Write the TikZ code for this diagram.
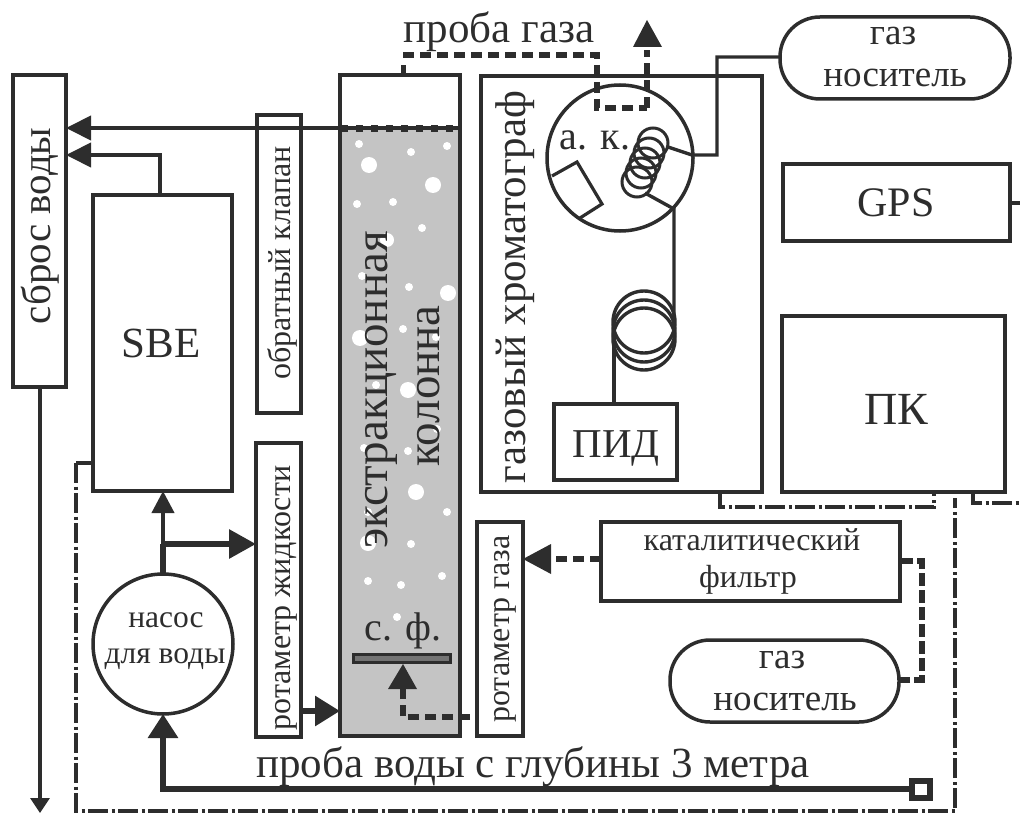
\documentclass[tikz,border=0pt]{standalone}
\usepackage{fontspec}
\setmainfont{Liberation Serif}
\usetikzlibrary{arrows.meta,fit}
\definecolor{ink}{HTML}{2D2D2D}
\definecolor{colfill}{HTML}{C4C4C4}
\tikzset{
  x=1pt,y=-1pt,
  box/.style={draw=ink,line width=3.5pt,inner sep=0pt,outer sep=0pt},
  txt/.style={text=ink,inner sep=0pt,anchor=base,font=\fontsize{#1}{#1}\selectfont},
  pipe/.style={draw=ink,line width=#1},
  pipe/.default=3.4pt,
  dashp/.style={draw=ink,line width=6pt,dash pattern=on 11pt off 6pt},
  dotdash/.style={draw=ink,line width=3.2pt,dash pattern=on 20pt off 3.5pt on 3pt off 3.5pt},
  hd/.style 2 args={-{Triangle[length=#1,width=#2]}},
  bub/.style={fill=white,draw=none},
}
\newcommand{\rbox}[6][]{\node[box,#1,fit={(#3,#4)(#5,#6)}] (#2) {};}
\begin{document}
\begin{tikzpicture}
\useasboundingbox (0,0) rectangle (1020,813);
% column
\fill[colfill] (340,129) rectangle (460,736);
\foreach \x/\y/\r in {359/144/4,369/165/8,411/152/4,447/146/4,433/185/8,357/204/4,393/202/4,422/228/4,387/240/7,362/276/4,409/287/4,448/293/8,403/329/4,360/338/8,436/337/4,376/385/4,408/390/8,364/448/4,408/451/4,437/429/4,416/492/8,368/512/4,447/512/4,411/544/4,368/543/8,368/581/4,401/585/4,442/576/4,397/617/4}{
  \fill[bub] (\x,\y) circle (\r);
}
\rbox{col}{340}{75}{460}{736}
\node[txt=47,rotate=90] at (387,390) {экстракционная};
\node[txt=47,rotate=90] at (439,386) {колонна};
% boxes
\rbox{sbros}{13}{75}{66}{387}
\node[txt=41,rotate=90] at (50,226) {сброс воды};
\rbox{sbe}{93}{195}{232}{491}
\node[txt=43] at (161,357) {SBE};
\rbox{klapan}{257}{115}{301}{413}
\node[txt=32,rotate=90] at (290,263) {обратный клапан};
\rbox{rotw}{256}{443}{301}{737}
\node[txt=32,rotate=90] at (290,598) {ротаметр жидкости};
\rbox{rotg}{477}{522}{523}{736}
\node[txt=32,rotate=90] at (509,629) {ротаметр газа};
\rbox{gc}{481}{76}{762}{492}
\node[txt=43,rotate=90] at (525,287) {газовый хроматограф};
\rbox{pid}{554}{404}{677}{480}
\node[txt=41] at (616,457) {ПИД};
\rbox{gps}{783}{164}{1010}{241}
\node[txt=42] at (896,217) {GPS};
\rbox{pk}{782}{316}{1005}{492}
\node[txt=46] at (896,424) {ПК};
\rbox{filt}{601}{522}{900}{601}
\node[txt=32] at (752,550) {каталитический};
\node[txt=32] at (748,587) {фильтр};
\rbox[rounded corners=40pt]{gastop}{780}{17}{1010}{99}
\node[txt=37] at (893,45) {газ};
\node[txt=37] at (895,87) {носитель};
\rbox[rounded corners=40pt]{gasbot}{670}{640}{899}{722}
\node[txt=37] at (782,668) {газ};
\node[txt=37] at (785,710) {носитель};
\node[box,circle,minimum size=140pt] (pump) at (163,644) {};
\node[txt=31.5] at (166,627) {насос};
\node[txt=31.5] at (165,663) {для воды};
\node[txt=43] at (499,43) {проба газа};
\node[txt=43] at (533,777) {проба воды с глубины 3 метра};
% autosampler
\node[box,circle,minimum size=146pt] (ak) at (620,158) {};
\node[txt=40] at (595,150) {а. к.};
\node[txt=40] at (403,640) {с. ф.};
\draw[pipe=3.2pt] (552,176) -- (577,162) -- (602,204) -- (580,218);
\foreach \x/\y in {653/143,649/153,645/163,641/173,637/182}{\draw[pipe=3pt] (\x,\y) circle (15);}
\coordinate (k1) at (668,147);
\coordinate (k2) at (645,193);
\coordinate (akE) at (692,155);
\coordinate (akS) at (674,209);
\coordinate (g1) at (717,155);
\coordinate (g2) at (717,57);
\draw[pipe] (k1) -- (akE) -- (g1) -- (g2) -- (g2 -| gastop.west);
\draw[pipe] (k2) -- (akS) -- (674,335);
\foreach \y in {322,331,339}{\draw[pipe] (644,\y) circle (31);}
\draw[pipe] (614,335) -- (614,404);
% GPS stub
\coordinate (e1) at (1020,203);
\draw[pipe] (e1 -| gps.east) -- (e1);
% level line and dashes
\coordinate (lv) at (460,128);
\draw[pipe=4pt,hd={25pt}{24pt}] (lv) -- (lv -| sbros.east);
\draw[draw=ink,line width=7pt,dash pattern=on 7pt off 8pt] (341,129) -- (460,129);
\coordinate (s1) at (160,155);
\draw[pipe=4pt,hd={25pt}{24pt}] (sbe.north -| s1) -- (s1) -- (s1 -| sbros.east);
\coordinate (d1) at (40,813);
\draw[pipe,hd={15pt}{19pt}] (sbros.south -| d1) -- (d1);
% pump
\coordinate (j1) at (163,544);
\draw[pipe=4pt,hd={22pt}{22pt}] (pump.north) -- (sbe.south -| pump);
\draw[pipe=6pt] (pump.north) -- (j1);
\draw[pipe=6pt,hd={27pt}{28pt}] (j1) -- (j1 -| rotw.west);
\coordinate (r1) at (301,711);
\draw[pipe=6pt,hd={25pt}{29pt}] (r1) -- (r1 -| col.west);
% water sample
\node[draw=ink,line width=6pt,minimum width=18pt,minimum height=17pt,inner sep=0pt,outer sep=0pt] (sq) at (920.5,789) {};
\coordinate (w1) at (163,789);
\draw[pipe=6pt,hd={24pt}{29pt}] (sq.west) -- (w1) -- (pump.south);
% plate
\node[draw=ink,line width=3.5pt,fill=gray!90!black,inner sep=0pt,outer sep=0pt,minimum width=97pt,minimum height=8pt] (plate) at (402,658.5) {};
% dashed gas lines
\coordinate (p1) at (403,55);
\coordinate (p2) at (597,55);
\coordinate (p3) at (597,108);
\coordinate (p4) at (647,108);
\coordinate (p5) at (647,20);
\draw[pipe=5pt] (col.north -| p1) -- (403,65);
\draw[dashp] (p1) -- (p2) -- (p3) -- (p4);
\draw[dashp] (p4) -- (647,50);
\draw[draw=none,fill=ink] (p5) -- (633,47) -- (662,47) -- cycle;
\coordinate (a1) at (403,717);
\coordinate (a2) at (470,717);
\draw[dashp] (a2) -- (a1) -- (403,689);
\draw[draw=none,fill=ink] (403,664) -- (388,689) -- (417,689) -- cycle;
\coordinate (f1) at (601,559);
\draw[dashp] (f1) -- (548,559);
\draw[draw=none,fill=ink] (f1 -| rotg.east) -- (551,544) -- (551,574) -- cycle;
\coordinate (f2) at (922,561);
\coordinate (f3) at (922,680);
\draw[draw=ink,line width=6pt,dash pattern=on 13pt off 4pt] (f2 -| filt.east) -- (f2) -- (f3) -- (f3 -| gasbot.east);
% control dash-dot
\coordinate (b1) at (76,811);
\coordinate (b2) at (955,811);
\coordinate (b3) at (955,498);
\coordinate (b0) at (76,463);
\draw[pipe] (b0) -- (b0 -| sbe.west);
\draw[dotdash] (b0) -- (b1) -- (b2) -- (b3);
\coordinate (u1) at (720,507);
\coordinate (u2) at (934,507);
\draw[dotdash] (gc.south -| u1) -- (u1) -- (u2) -- (pk.south -| u2);
\coordinate (v1) at (973,503);
\coordinate (v2) at (1020,503);
\draw[dotdash] (pk.south -| v1) -- (v1) -- (v2);
\end{tikzpicture}
\end{document}
